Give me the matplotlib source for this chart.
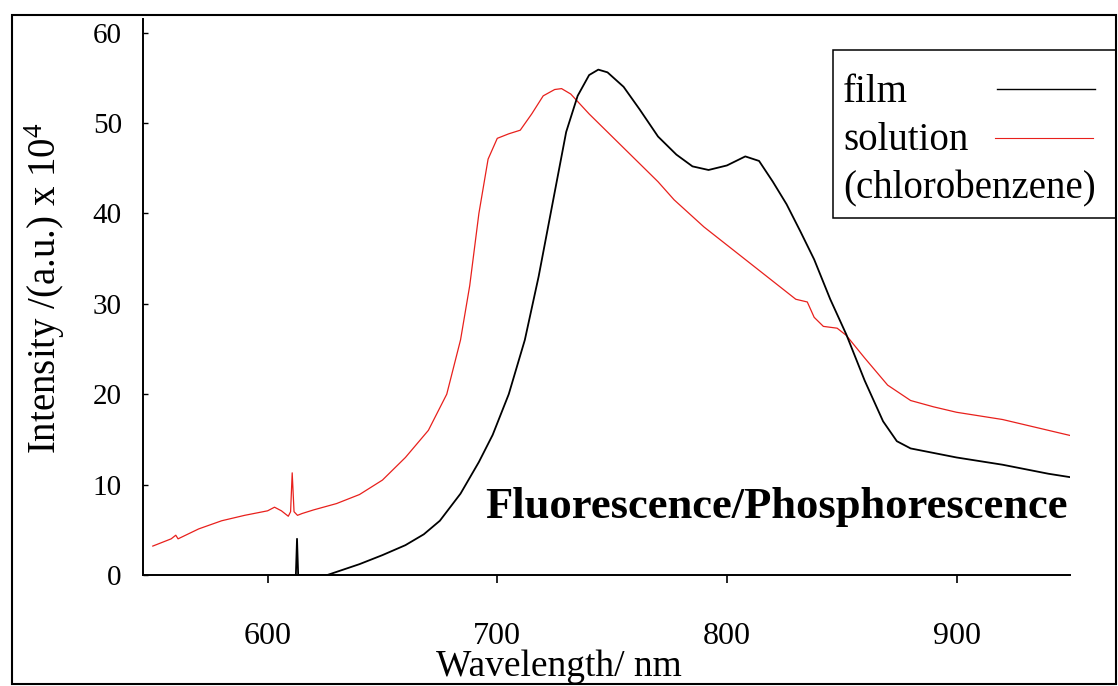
import matplotlib.pyplot as plt
from matplotlib.lines import Line2D
from matplotlib.patches import Rectangle

plt.rcParams["font.family"] = ["Liberation Serif", "DejaVu Serif"]
plt.rcParams["mathtext.fontset"] = "custom"
plt.rcParams["mathtext.rm"] = "Liberation Serif"
plt.rcParams["mathtext.it"] = "Liberation Serif"

# film (black) emission spectrum, wavelength in nm / intensity x 10^4
film_wl = [612.3, 612.8, 613.3, 626, 640, 650, 660, 668, 675, 684, 692, 698,
           705, 712, 718, 724, 730, 735, 740, 744, 748, 755, 762, 770, 778,
           785, 792, 800, 808, 814, 820, 826, 832, 838, 845, 852, 860, 868,
           874, 880, 890, 900, 920, 940, 950]
film_int = [0.0, 4.0, 0.0, 0.0, 1.2, 2.2, 3.3, 4.5, 6.0, 9.0, 12.5, 15.5,
            20.0, 26.0, 33.0, 41.0, 49.0, 53.0, 55.3, 55.9, 55.6, 54.0, 51.5,
            48.5, 46.5, 45.2, 44.8, 45.3, 46.3, 45.8, 43.5, 41.0, 38.0, 34.9,
            30.5, 26.6, 21.5, 17.0, 14.8, 14.0, 13.5, 13.0, 12.2, 11.2, 10.8]

# solution in chlorobenzene (red)
sol_wl = [550, 558, 560, 561, 570, 580, 590, 600, 603, 606, 609, 610, 610.7,
          611.5, 613, 615, 620, 630, 640, 650, 660, 670, 678, 684, 688, 692,
          696, 700, 705, 710, 715, 720, 725, 728, 732, 740, 750, 760, 770, 777,
          790, 800, 810, 820, 830, 835, 838, 842, 848, 852, 860, 870, 880, 890,
          900, 920, 940, 950]
sol_int = [3.2, 4.0, 4.4, 4.0, 5.1, 6.0, 6.6, 7.1, 7.5, 7.1, 6.5, 7.0, 11.3,
           7.0, 6.6, 6.8, 7.2, 7.9, 8.9, 10.5, 13.0, 16.0, 20.0, 26.0, 32.0,
           40.0, 46.0, 48.3, 48.8, 49.2, 51.0, 53.0, 53.7, 53.8, 53.2, 51.0,
           48.5, 46.0, 43.5, 41.5, 38.5, 36.5, 34.5, 32.5, 30.5, 30.2, 28.5,
           27.5, 27.3, 26.5, 24.0, 21.0, 19.3, 18.6, 18.0, 17.2, 16.0, 15.4]

x_ticks = [600, 700, 800, 900]
y_ticks = [0, 10, 20, 30, 40, 50, 60]

W, H = 1118, 686
fig = plt.figure(figsize=(W / 100, H / 100), dpi=100)
ax = fig.add_axes([142.7 / W, 1 - 575 / H, (1070 - 142.7) / W, (575 - 19) / H])

ax.plot(sol_wl, sol_int, color="#e8201c", lw=0.9)
ax.plot(film_wl, film_int, color="black", lw=1.3)

ax.set_xlim(545.6, 949.4)
ax.set_ylim(0, 61.5)
ax.set_xticks(x_ticks)
ax.set_yticks(y_ticks)
ax.tick_params(axis="x", direction="out", length=6, width=1.2, pad=28, labelsize=23)
ax.tick_params(axis="y", direction="in", length=3.5, width=1.0, pad=15, labelsize=21)
for side in ("top", "right"):
    ax.spines[side].set_visible(False)
for side in ("left", "bottom"):
    ax.spines[side].set_linewidth(1.4)

fig.text(45 / W, 1 - 288 / H, "Intensity /(a.u.) x 10$^{4}$", rotation=90,
         ha="center", va="center", fontsize=28)
fig.text(559 / W, 1 - 676 / H, "Wavelength/ nm", ha="center", va="baseline",
         fontsize=27)
fig.text(1068 / W, 1 - 518 / H, "Fluorescence/Phosphorescence", ha="right",
         va="baseline", fontsize=32, fontweight="bold")

# legend box, text first then sample line
fig.patches.append(Rectangle((833 / W, 1 - 218 / H), (1116 - 833) / W, 168 / H,
                             transform=fig.transFigure, fill=False, lw=1.1,
                             edgecolor="black"))
fig.text(843 / W, 1 - 102 / H, "film", fontsize=28, va="baseline")
fig.text(843 / W, 1 - 150 / H, "solution", fontsize=28, va="baseline")
fig.text(843 / W, 1 - 198 / H, "(chlorobenzene)", fontsize=28, va="baseline")
fig.lines.append(Line2D([997 / W, 1095 / W], [1 - 89 / H, 1 - 89 / H],
                        transform=fig.transFigure, color="black", lw=1.0))
fig.lines.append(Line2D([995 / W, 1093 / W], [1 - 138 / H, 1 - 138 / H],
                        transform=fig.transFigure, color="#e8201c", lw=0.8))

# outer frame of the scanned figure
fig.patches.append(Rectangle((12 / W, 1 - 684 / H), (1116 - 12) / W, (684 - 15) / H,
                             transform=fig.transFigure, fill=False, lw=1.5,
                             edgecolor="black"))

fig.savefig("out.png", dpi=100)
